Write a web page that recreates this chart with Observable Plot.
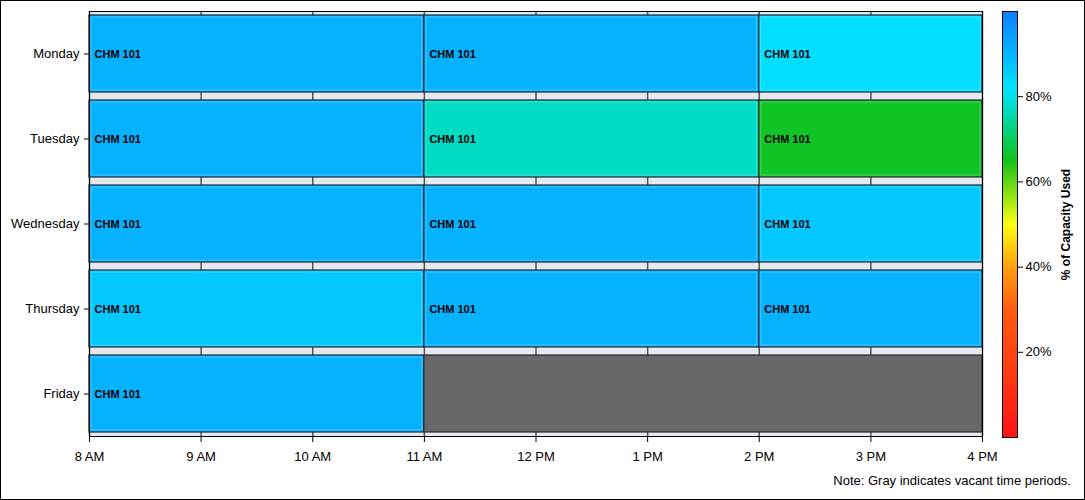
<!DOCTYPE html>
<html>
<head>
<meta charset="utf-8">
<script src="https://cdn.jsdelivr.net/npm/d3@7"></script>
<script src="https://cdn.jsdelivr.net/npm/@observablehq/plot@0.6"></script>
<style>
  html, body { margin: 0; padding: 0; background: #fff; }
  #chart { position: relative; width: 1085px; height: 500px; box-shadow: inset 0 0 0 1px #000; overflow: hidden;
           font-family: "Liberation Sans", Arial, sans-serif; }
  #main { position: absolute; left: 0; top: 0; }
  #legend { position: absolute; left: 990px; top: 0; }
  #note { position: absolute; right: 14px; top: 473px; font-size: 13px; color: #000; font-family: "Liberation Sans", Arial, sans-serif; }
</style>
</head>
<body>
<div id="chart">
  <div id="main"></div>
  <div id="legend"></div>
  <div id="note">Note: Gray indicates vacant time periods.</div>
</div>
<script>
// ---- data ----
const days = ["Monday", "Tuesday", "Wednesday", "Thursday", "Friday"];
const hours = [8, 9, 10, 11, 12, 13, 14, 15, 16];
const hourLabels = ["8 AM", "9 AM", "10 AM", "11 AM", "12 PM", "1 PM", "2 PM", "3 PM", "4 PM"];
const slotStart = [8, 11, 14];
const slotEnd = [11, 14, 16];
const slotCourse = ["CHM 101", "CHM 101", "CHM 101"];
const mondayCap = [91, 91, 83];
const tuesdayCap = [91, 77, 66];
const wednesdayCap = [91, 91, 87];
const thursdayCap = [87, 91, 91];
const fridayCap = [91, null, null];
const vacantDays = ["Friday"];
const vacantStart = [11];
const vacantEnd = [16];
const rampStops = [0, 15, 30, 40, 50, 65, 77, 82, 100];
const rampColors = ["#ff1414", "#ff3a12", "#ff5c10", "#ffa010", "#ffff10", "#12c218", "#00dcc4", "#00e4ff", "#0a80ff"];
const legendTicks = [20, 40, 60, 80];
const legendTitle = "% of Capacity Used";

// ---- build tables ----
const caps = [mondayCap, tuesdayCap, wednesdayCap, thursdayCap, fridayCap];
const sessions = [];
days.forEach((d, i) => {
  caps[i].forEach((c, j) => {
    if (c != null) sessions.push({day: d, start: slotStart[j], end: slotEnd[j], course: slotCourse[j], cap: c});
  });
});
const vacant = vacantDays.map((d, i) => ({day: d, start: vacantStart[i], end: vacantEnd[i]}));

const colorOpts = {type: "linear", domain: rampStops, range: rampColors, interpolate: "rgb"};
const font = {fontFamily: "'Liberation Sans', Arial, sans-serif", fontSize: "13px", color: "#000", background: "transparent", overflow: "visible"};

const main = Plot.plot({
  width: 1010, height: 470,
  marginLeft: 89, marginRight: 28, marginTop: 11, marginBottom: 34,
  style: font,
  x: {domain: [8, 16], ticks: hours, tickFormat: h => hourLabels[hours.indexOf(h)], tickSize: 6, tickPadding: 9, label: null},
  y: {domain: days, paddingInner: 0.1, paddingOuter: 0.05, tickSize: 5, tickPadding: 5, label: null},
  color: colorOpts,
  marks: [
    Plot.frame({fill: "#e5e8ef"}),
    Plot.ruleX(hours, {stroke: "#555", strokeWidth: 1.5}),
    Plot.barX(sessions, {x1: "start", x2: "end", y: "day", fill: "cap", stroke: "#1c2a36", strokeWidth: 1.2, inset: 0}),
    Plot.barX(sessions, {x1: "start", x2: "end", y: "day", fill: "none", stroke: "#fff", strokeOpacity: 0.25, strokeWidth: 1, inset: 2}),
    Plot.barX(vacant, {x1: "start", x2: "end", y: "day", fill: "#686868", stroke: "#2a2a2a", strokeWidth: 1.2, inset: 0}),
    Plot.text(sessions, {x: "start", y: "day", text: "course", textAnchor: "start", dx: 5, fontWeight: "bold", fontSize: 11, fill: "#000"}),
    Plot.frame({stroke: "#000"})
  ]
});
document.getElementById("main").appendChild(main);

const legend = Plot.plot({
  width: 95, height: 470,
  marginLeft: 12, marginRight: 68, marginTop: 11, marginBottom: 33,
  style: font,
  x: {domain: [0, 1], axis: null},
  y: {domain: [0, 100], axis: "right", ticks: legendTicks, tickFormat: d => d + "%", tickSize: 5, tickPadding: 3, label: null},
  color: colorOpts,
  marks: [
    Plot.raster({x1: 0, x2: 1, y1: 0, y2: 100, width: 1, height: 400, fill: (x, y) => y}),
    Plot.frame({stroke: "#000"}),
    Plot.text([legendTitle], {x: () => 1, y: () => 50, dx: 49, rotate: -90, textAnchor: "middle", fontWeight: "bold", fontSize: 12, fill: "#000"})
  ]
});
document.getElementById("legend").appendChild(legend);
</script>
</body>
</html>
